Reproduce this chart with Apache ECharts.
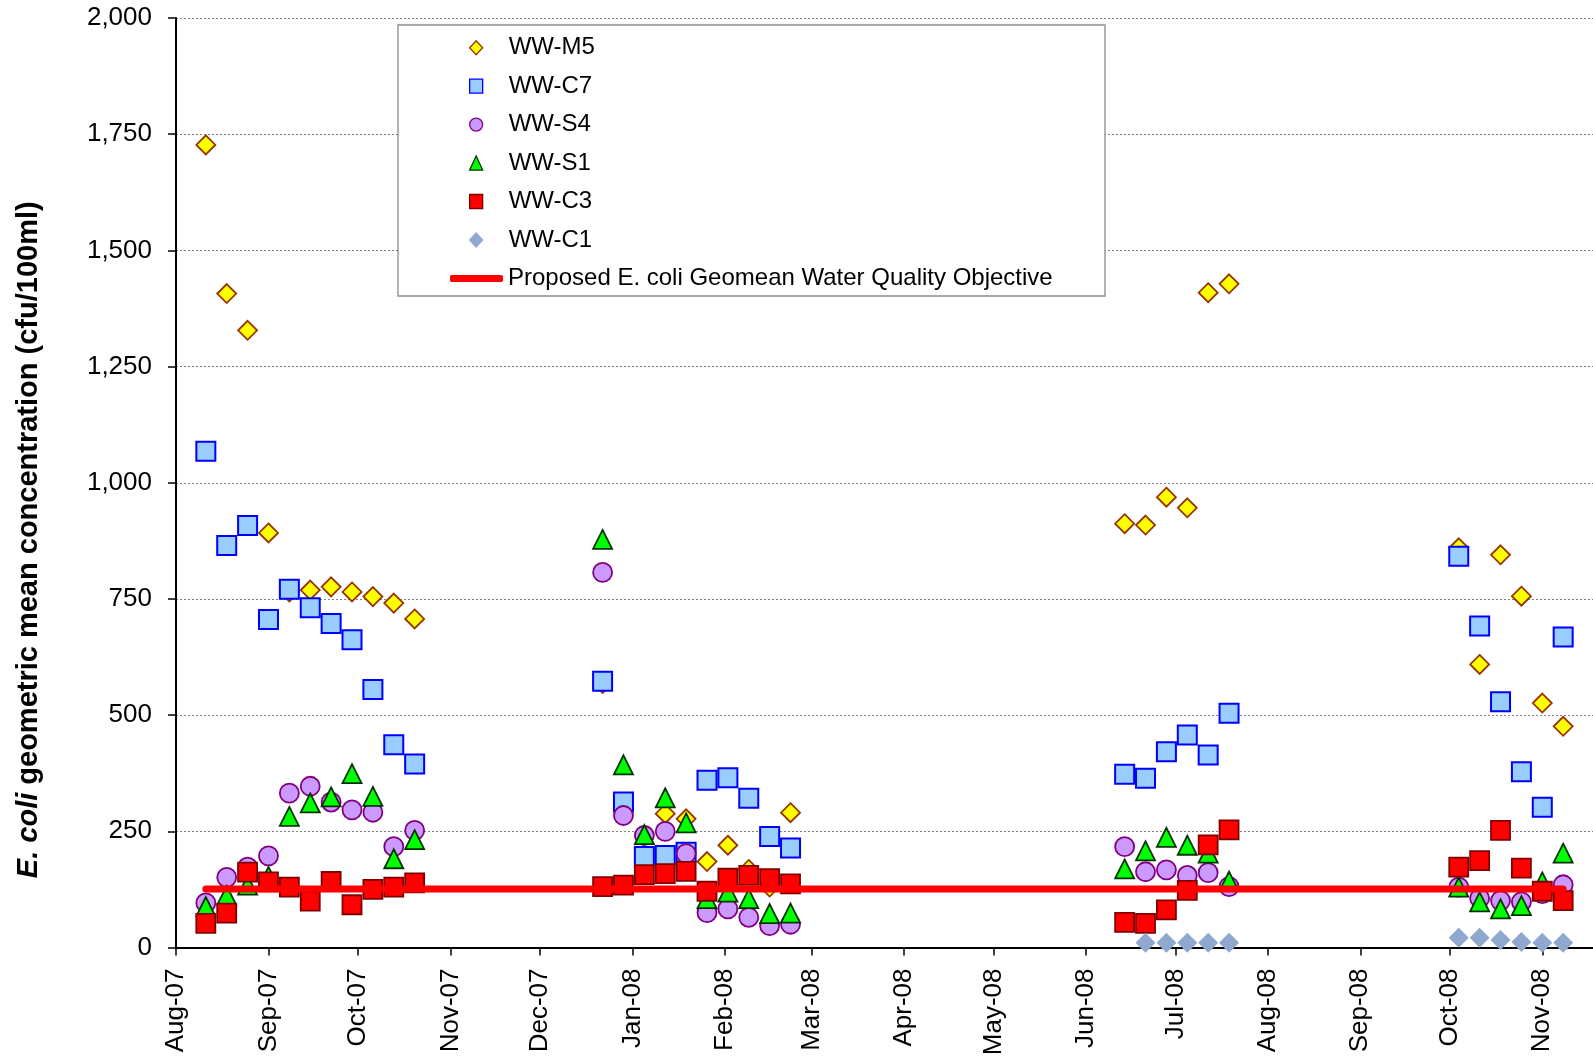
<!DOCTYPE html>
<html>
<head>
<meta charset="utf-8">
<title>E. coli geometric mean concentration</title>
<script src="https://cdn.jsdelivr.net/npm/echarts@6/dist/echarts.min.js"></script>
<style>
  html, body { margin: 0; padding: 0; background: #fff; }
  #chart { width: 1593px; height: 1062px; }
</style>
</head>
<body>
<div id="chart"></div>
<script>
// weekly sampling dates (four survey periods)
const sampleDates = [
  '2007-08-11', '2007-08-18', '2007-08-25', '2007-09-01', '2007-09-08', '2007-09-15',
  '2007-09-22', '2007-09-29', '2007-10-06', '2007-10-13', '2007-10-20',
  '2007-12-22', '2007-12-29', '2008-01-05', '2008-01-12', '2008-01-19', '2008-01-26',
  '2008-02-02', '2008-02-09', '2008-02-16', '2008-02-23',
  '2008-06-14', '2008-06-21', '2008-06-28', '2008-07-05', '2008-07-12', '2008-07-19',
  '2008-10-04', '2008-10-11', '2008-10-18', '2008-10-25', '2008-11-01', '2008-11-08'
];

const wwM5 = [
  1727, 1407, 1328, 892, 765, 769, 776, 765, 755, 741, 707,
  568, null, null, 288, 277, 185, 220, 168, 130, 290,
  912, 909, 969, 946, 1409, 1428,
  860, 609, 845, 756, 526, 476
];
const wwC7 = [
  1068, 865, 908, 706, 771, 731, 697, 662, 555, 436, 395,
  573, 313, 196, 198, 205, 360, 365, 321, 239, 214,
  373, 364, 421, 457, 414, 504,
  842, 692, 529, 378, 302, 668
];
const wwS4 = [
  96, 151, 173, 197, 332, 347, 313, 296, 291, 217, 252,
  807, 284, 241, 250, 202, 75, 83, 65, 47, 50,
  217, 163, 167, 155, 161, 131,
  130, 106, 101, 98, 116, 135
];
const wwS1 = [
  88, 112, 134, 153, 282, 311, 324, 374, 325, 191, 232,
  878, 393, 243, 322, 268, 105, 119, 105, 73, 74,
  169, 208, 237, 220, 203, 143,
  130, 98, 83, 90, 141, 203
];
const wwC3 = [
  52, 74, 162, 141, 130, 100, 142, 92, 125, 130, 139,
  131, 134, 157, 159, 164, 121, 149, 155, 148, 137,
  54, 52, 81, 123, 221, 253,
  173, 187, 252, 171, 121, 101
];
const wwC1 = [
  null, null, null, null, null, null, null, null, null, null, null,
  null, null, null, null, null, null, null, null, null, null,
  null, 10, 10, 10, 10, 10,
  21, 21, 16, 12, 10, 10
];

// proposed geomean objective, drawn across the sampling span
const objectiveValue = 126;
const objectiveDates = ['2007-08-11', '2008-11-08'];

const monthTicks = [
  '2007-08-01', '2007-09-01', '2007-10-01', '2007-11-01', '2007-12-01', '2008-01-01',
  '2008-02-01', '2008-03-01', '2008-04-01', '2008-05-01', '2008-06-01', '2008-07-01',
  '2008-08-01', '2008-09-01', '2008-10-01', '2008-11-01'
];
const monthLabels = [
  'Aug-07', 'Sep-07', 'Oct-07', 'Nov-07', 'Dec-07', 'Jan-08', 'Feb-08', 'Mar-08',
  'Apr-08', 'May-08', 'Jun-08', 'Jul-08', 'Aug-08', 'Sep-08', 'Oct-08', 'Nov-08'
];
const yMin = 0, yMax = 2000, yStep = 250;

const lineName = 'Proposed E. coli Geomean Water Quality Objective';
const font = '"Liberation Sans", Arial, sans-serif';

const t = s => Date.parse(s + 'T00:00:00Z');
const tickValues = monthTicks.map(t);

function pts(vals) {
  const out = [];
  vals.forEach((v, i) => { if (v != null) out.push([t(sampleDates[i]), v]); });
  return out;
}

function scatter(name, vals, symbol, fill, border, bw) {
  return {
    name: name,
    type: 'scatter',
    data: pts(vals),
    symbol: symbol,
    symbolSize: symbol === 'diamond' && !bw ? 20 : 19,
    clip: false,
    itemStyle: { color: fill, borderColor: border, borderWidth: bw, opacity: 1 },
    emphasis: { disabled: true }
  };
}

let chart = echarts.init(document.getElementById('chart'));
chart.setOption({
  animation: false,
  backgroundColor: '#fff',
  textStyle: { fontFamily: font },
  grid: { left: 176, right: 0, top: 18, bottom: 114.5, containLabel: false },
  graphic: [{
    type: 'rect',
    z: 3,
    shape: { x: 398, y: 25, width: 707, height: 271 },
    style: { fill: '#fff', stroke: '#8c8c8c', lineWidth: 1.3 }
  }],
  legend: [
    {
      orient: 'vertical',
      left: 469,
      top: 35.7,
      padding: 0,
      z: 5,
      itemWidth: 13,
      itemHeight: 14,
      itemGap: 14.45,
      selectedMode: false,
      itemStyle: { borderWidth: 1.3 },
      textStyle: { fontSize: 24, fontFamily: font, color: '#000', lineHeight: 24, padding: [0, 0, 0, 21] },
      data: ['WW-M5', 'WW-C7', 'WW-S4', 'WW-S1', 'WW-C3', 'WW-C1']
    },
    {
      left: 450,
      top: 266.4,
      padding: 0,
      z: 5,
      itemWidth: 53,
      itemHeight: 7,
      selectedMode: false,
      textStyle: { fontSize: 24, fontFamily: font, color: '#000', lineHeight: 24 },
      data: [{ name: lineName, icon: 'roundRect', itemStyle: { color: '#ff0000' } }]
    }
  ],
  xAxis: {
    type: 'value',
    min: t('2007-08-01'),
    max: t('2008-11-18'),
    axisLine: { show: true, onZero: false, lineStyle: { color: '#000', width: 2 } },
    axisTick: { show: true, customValues: tickValues, length: 8, lineStyle: { color: '#000', width: 1.5 } },
    splitLine: { show: false },
    axisLabel: {
      customValues: tickValues,
      rotate: 90,
      margin: 21,
      fontSize: 26,
      fontFamily: font,
      color: '#000',
      formatter: function (v) {
        const i = tickValues.indexOf(v);
        return i >= 0 ? monthLabels[i] : '';
      }
    }
  },
  yAxis: {
    type: 'value',
    min: yMin,
    max: yMax,
    interval: yStep,
    name: '{it|E. coli} geometric mean concentration (cfu/100ml)',
    nameLocation: 'middle',
    nameRotate: 90,
    nameGap: 133,
    nameTextStyle: {
      fontSize: 29,
      fontWeight: 'bold',
      fontFamily: font,
      color: '#000',
      padding: [0, 114, 0, 0],
      rich: { it: { fontSize: 29, fontWeight: 'bold', fontStyle: 'italic', fontFamily: font, color: '#000' } }
    },
    axisLine: { show: true, lineStyle: { color: '#000', width: 2 } },
    axisTick: { show: true, length: 8, lineStyle: { color: '#000', width: 1.5 } },
    axisLabel: {
      margin: 24,
      fontSize: 26,
      fontFamily: font,
      color: '#000',
      formatter: v => v.toLocaleString('en-US')
    },
    splitLine: { show: true, lineStyle: { color: '#808080', width: 1, type: [2, 2] } }
  },
  series: [
    {
      name: lineName,
      type: 'line',
      data: objectiveDates.map(d => [t(d), objectiveValue]),
      symbol: 'none',
      lineStyle: { color: '#ff0000', width: 7, cap: 'round' },
      itemStyle: { color: '#ff0000' },
      emphasis: { disabled: true }
    },
    scatter('WW-M5', wwM5, 'diamond', '#ffff00', '#993300', 1.8),
    scatter('WW-C7', wwC7, 'rect', '#99ccff', '#0000ff', 2),
    scatter('WW-S4', wwS4, 'circle', '#cc99ff', '#800080', 1.8),
    scatter('WW-S1', wwS1, 'triangle', '#00ff00', '#003300', 1.8),
    scatter('WW-C3', wwC3, 'rect', '#ff0000', '#800000', 1.8),
    scatter('WW-C1', wwC1, 'diamond', '#8fa8d0', '#8fa8d0', 0)
  ]
});
</script>
</body>
</html>
